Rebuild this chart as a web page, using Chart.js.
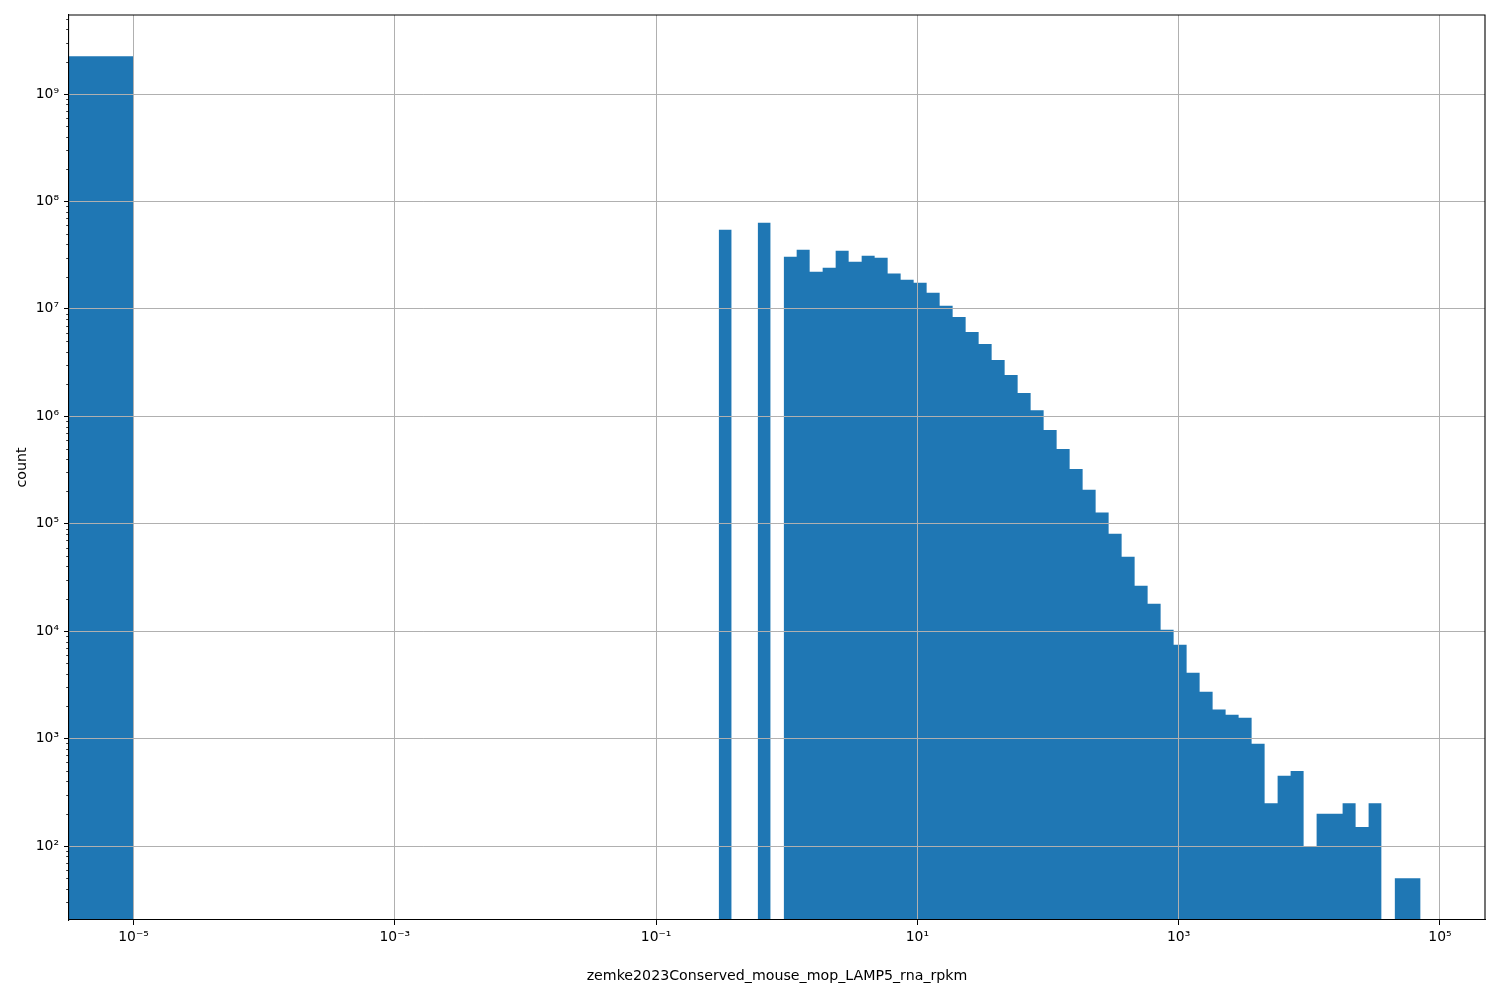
<!DOCTYPE html>
<html>
<head>
<meta charset="utf-8">
<script src="https://cdn.jsdelivr.net/npm/chart.js@4.4.0/dist/chart.umd.min.js"></script>
<style>
html,body{margin:0;padding:0;background:#ffffff;}
#wrap{width:1500px;height:1000px;position:relative;background:#ffffff;}
canvas{display:block;}
</style>
</head>
<body>
<div id="wrap"><canvas id="c" width="1500" height="1000"></canvas></div>
<script>
// ---------------- data ----------------
const xAxisLabel = 'zemke2023Conserved_mouse_mop_LAMP5_rna_rpkm';
const yAxisLabel = 'count';

// bin holding the zero values: from 0 up to 1e-5
const zeroBinUpper = 1e-5;
const zeroBinCount = 2.25e9;

// log-spaced histogram bins: log10 of the bin edges (55 edges -> 54 bins)
const binEdgesLog10 = [-0.521, -0.4215, -0.322, -0.2225, -0.123, -0.0235, 0.076, 0.1755, 0.275, 0.3745,
  0.474, 0.5735, 0.673, 0.7725, 0.872, 0.9715, 1.071, 1.1705, 1.270, 1.3695,
  1.469, 1.5685, 1.668, 1.7675, 1.867, 1.9665, 2.066, 2.1655, 2.265, 2.3645,
  2.464, 2.5635, 2.663, 2.7625, 2.862, 2.9615, 3.061, 3.1605, 3.260, 3.3595,
  3.459, 3.5585, 3.658, 3.7575, 3.857, 3.9565, 4.056, 4.1555, 4.255, 4.3545,
  4.454, 4.5535, 4.653, 4.7525, 4.852];

// counts per bin (null = empty bin)
const binCounts = [5.46e7, null, null, 6.34e7, null, 3.06e7, 3.55e7, 2.22e7, 2.42e7, 3.48e7,
  2.75e7, 3.12e7, 2.99e7, 2.13e7, 1.87e7, 1.75e7, 1.41e7, 1.07e7, 8.40e6, 6.09e6,
  4.71e6, 3.34e6, 2.42e6, 1.65e6, 1.14e6, 7.45e5, 4.96e5, 3.23e5, 2.07e5, 1.27e5,
  8.07e4, 4.93e4, 2.65e4, 1.80e4, 1.03e4, 7.48e3, 4.10e3, 2.73e3, 1.86e3, 1.67e3,
  1.56e3, 896, 250, 450, 500, 100, 200, 200, 250, 150,
  250, null, 50, 50];

const xTickExponents = [-5, -3, -1, 1, 3, 5];
const yTickExponents = [2, 3, 4, 5, 6, 7, 8, 9];

// ---------------- styling / layout ----------------
const BAR_COLOR = '#1f77b4';
const FONT = {family: 'DejaVu Sans', size: 13.89};
const TITLE_FONT = {family: 'DejaVu Sans', size: 14.2};
const X_MIN = Math.pow(10, -5.494), X_MAX = Math.pow(10, 5.345);
const Y_MIN = Math.pow(10, 1.3112), Y_MAX = Math.pow(10, 9.7354);

const SUP = {'-': '\u207B', '0': '\u2070', '1': '\u00B9', '2': '\u00B2', '3': '\u00B3',
  '4': '\u2074', '5': '\u2075', '6': '\u2076', '7': '\u2077', '8': '\u2078', '9': '\u2079'};
function powLabel(v) {
  const e = Math.round(Math.log10(v));
  return '10' + String(e).split('').map(c => SUP[c]).join('');
}

// build filled step datasets, one per contiguous run of non-empty bins
function stepDataset(points) {
  return {
    data: points,
    stepped: 'before',
    fill: 'start',
    backgroundColor: BAR_COLOR,
    borderColor: 'rgba(0,0,0,0)',
    borderWidth: 0,
    pointRadius: 0,
    pointHoverRadius: 0,
    tension: 0
  };
}
const datasets = [];
// zero bin extends from 0 (off the left edge of the log axis) to 1e-5
datasets.push(stepDataset([{x: 1e-9, y: zeroBinCount}, {x: zeroBinUpper, y: zeroBinCount}]));
let run = [];
for (let i = 0; i < binCounts.length; i++) {
  const v = binCounts[i];
  if (v === null) continue;
  run.push({x: Math.pow(10, binEdgesLog10[i]), y: v});
  if (i + 1 >= binCounts.length || binCounts[i + 1] === null) {
    run.push({x: Math.pow(10, binEdgesLog10[i + 1]), y: v});
    datasets.push(stepDataset(run));
    run = [];
  }
}

// frame (top/right spines) and minor log ticks on the y axis
const framePlugin = {
  id: 'frame',
  afterDraw(chart) {
    const {ctx, chartArea: a} = chart;
    const ys = chart.scales.y;
    ctx.save();
    ctx.strokeStyle = '#000';
    ctx.lineWidth = 1.1;
    ctx.beginPath();
    ctx.moveTo(a.left, a.top); ctx.lineTo(a.right, a.top);
    ctx.lineTo(a.right, a.bottom);
    ctx.stroke();
    // minor ticks
    ctx.lineWidth = 0.8;
    ctx.beginPath();
    for (let e = 1; e <= 9; e++) {
      for (let m = 2; m <= 9; m++) {
        const v = m * Math.pow(10, e);
        if (v < ys.min || v > ys.max) continue;
        const py = Math.round(ys.getPixelForValue(v)) + 0.5;
        ctx.moveTo(a.left - 2.8, py);
        ctx.lineTo(a.left, py);
      }
    }
    ctx.stroke();
    ctx.restore();
  }
};

new Chart(document.getElementById('c'), {
  type: 'line',
  data: {datasets},
  plugins: [framePlugin],
  options: {
    responsive: false,
    maintainAspectRatio: false,
    animation: false,
    devicePixelRatio: 1,
    layout: {padding: {left: 0, right: 15, top: 15, bottom: 0}},
    plugins: {legend: {display: false}, tooltip: {enabled: false}},
    scales: {
      x: {
        type: 'logarithmic',
        min: X_MIN, max: X_MAX,
        afterBuildTicks: (s) => { s.ticks = xTickExponents.map(e => ({value: Math.pow(10, e)})); },
        afterFit: (s) => { s.height = 80; },
        ticks: {autoSkip: false, maxRotation: 0, minRotation: 0, padding: 4, color: '#000', font: FONT,
          callback: (v) => powLabel(v)},
        grid: {color: '#b0b0b0', lineWidth: 1, z: 1, drawTicks: true, tickLength: 5, tickColor: '#000', tickWidth: 1},
        border: {display: true, color: '#000', width: 1.1, z: 2},
        title: {display: true, text: xAxisLabel, color: '#000', font: TITLE_FONT, padding: {top: 0, bottom: 15.5}}
      },
      y: {
        type: 'logarithmic',
        min: Y_MIN, max: Y_MAX,
        afterBuildTicks: (s) => { s.ticks = yTickExponents.map(e => ({value: Math.pow(10, e)})); },
        afterFit: (s) => { s.width = 69; },
        ticks: {autoSkip: false, padding: 5, color: '#000', font: FONT,
          callback: (v) => powLabel(v)},
        grid: {color: '#b0b0b0', lineWidth: 1, z: 1, drawTicks: true, tickLength: 5, tickColor: '#000', tickWidth: 1},
        border: {display: true, color: '#000', width: 1.1, z: 2},
        title: {display: true, text: yAxisLabel, color: '#000', font: TITLE_FONT, padding: {top: 13.5, bottom: 0}}
      }
    }
  }
});
</script>
</body>
</html>
